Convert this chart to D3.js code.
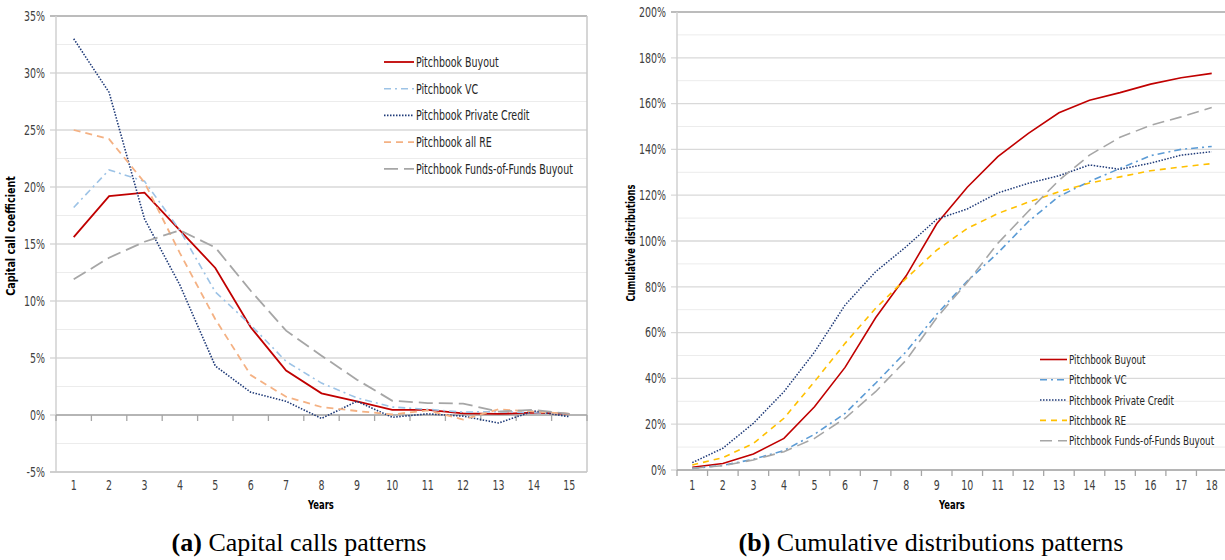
<!DOCTYPE html>
<html>
<head>
<meta charset="utf-8">
<script src="https://cdn.jsdelivr.net/npm/d3@7"></script>
<style>
body { margin: 0; background: #fff; }
svg { display: block; }
.cond { font-family: "DejaVu Sans Condensed", "DejaVu Sans", sans-serif; font-stretch: condensed; }
.cap { font-family: "Liberation Serif", "DejaVu Serif", serif; font-size: 26px; }
</style>
</head>
<body>
<svg id="chart" width="1225" height="560"></svg>
<script>
// --- data (a) capital calls, years 1..15, in %
let yearsA = d3.range(1, 16);
let callsBuyout = [15.6, 19.2, 19.5, 16.2, 12.9, 7.7, 3.9, 1.9, 1.2, 0.45, 0.45, 0.15, 0.1, 0.2, 0.1];
let callsVC = [18.2, 21.5, 20.5, 16.2, 10.8, 7.9, 4.7, 2.8, 1.5, 0.7, 0.5, 0.25, 0.3, 0.2, 0.1];
let callsCredit = [33.0, 28.3, 17.2, 11.4, 4.3, 2.0, 1.2, -0.3, 1.2, -0.2, 0.1, -0.1, -0.7, 0.35, -0.15];
let callsRE = [25.0, 24.2, 20.4, 14.2, 8.4, 3.5, 1.6, 0.7, 0.35, 0.05, 0.4, -0.4, 0.5, 0.3, 0.1];
let callsFoF = [11.9, 13.8, 15.2, 16.2, 14.7, 10.9, 7.4, 5.2, 3.1, 1.25, 1.05, 1.0, 0.3, 0.45, 0.1];
let ticksA = [-5, 0, 5, 10, 15, 20, 25, 30, 35];

// --- data (b) cumulative distributions, years 1..18, in %
let yearsB = d3.range(1, 19);
let distBuyout = [1.2, 2.8, 7.0, 13.8, 27.6, 44.8, 66.5, 84.8, 107.5, 123.5, 136.8, 147, 156, 161.5, 164.8, 168.5, 171.3, 173.2];
let distVC = [0.7, 2.0, 4.7, 8.5, 15.6, 24.7, 37.9, 51.7, 68, 82.5, 94.8, 108.5, 119.5, 126, 131.7, 137.3, 140, 141.3];
let distCredit = [3.2, 9.5, 20.4, 34.2, 51.5, 72, 86.6, 97.5, 109.5, 114, 121, 125.2, 128.5, 133.2, 131.3, 134, 137.5, 139];
let distRE = [2.2, 5.4, 11.6, 22.6, 38.6, 55.3, 70.6, 83.7, 96, 105.5, 112, 117, 121.5, 125.3, 128, 130.7, 132.3, 133.8];
let distFoF = [0.7, 1.9, 4.4, 8.0, 13.8, 22.6, 34.2, 48, 66.5, 82, 99, 113, 126.5, 137.5, 145.3, 150.5, 154.2, 158.3];
let ticksB = [0, 20, 40, 60, 80, 100, 120, 140, 160, 180, 200];

let svg = d3.select("#chart");

// the original uses a very narrow font, so squeeze the text horizontally (around its own x)
function squeeze(sel, k) {
	sel.each(function () {
		let t = d3.select(this);
		let tr = t.attr("transform");
		if (tr) {
			t.attr("transform", tr + " scale(" + k + ",1)");
		} else {
			let x0 = +t.attr("x") || 0;
			t.attr("transform", "translate(" + (x0 * (1 - k)) + ",0) scale(" + k + ",1)");
		}
	});
}

function drawPanel(opt) {
	let g = svg.append("g");
	let x = d3.scaleBand().domain(opt.years).range([opt.left, opt.right]);
	let y = d3.scaleLinear().domain(opt.domain).range([opt.bottom, opt.top]);

	// minor grid
	let minor = d3.range(opt.domain[0], opt.domain[1], opt.minorStep).filter(v => !opt.ticks.includes(v));
	g.selectAll(".minor").data(minor).enter().append("line")
		.attr("x1", opt.left).attr("x2", opt.right)
		.attr("y1", d => y(d)).attr("y2", d => y(d))
		.attr("stroke", "#ececec").attr("stroke-width", 1);
	// major grid
	g.selectAll(".major").data(opt.ticks).enter().append("line")
		.attr("x1", opt.left - 6).attr("x2", opt.right)
		.attr("y1", d => y(d)).attr("y2", d => y(d))
		.attr("stroke", d => d == opt.domain[1] ? "#a6a6a6" : "#d9d9d9").attr("stroke-width", 1.3);

	// left axis + frame
	g.append("line").attr("x1", opt.left).attr("x2", opt.left).attr("y1", opt.top).attr("y2", opt.bottom)
		.attr("stroke", "#d0d0d0").attr("stroke-width", 1.5);
	if (opt.frame) {
		g.append("line").attr("x1", opt.right).attr("x2", opt.right).attr("y1", opt.top).attr("y2", opt.bottom)
			.attr("stroke", "#c8c8c8").attr("stroke-width", 1.5);
		g.append("line").attr("x1", opt.left - 6).attr("x2", opt.right).attr("y1", opt.bottom).attr("y2", opt.bottom)
			.attr("stroke", "#c8c8c8").attr("stroke-width", 1.3);
	}

	// x axis at zero with ticks between categories
	let y0 = y(0);
	g.append("line").attr("x1", opt.left).attr("x2", opt.right).attr("y1", y0).attr("y2", y0)
		.attr("stroke", "#a6a6a6").attr("stroke-width", 1.3);
	let bounds = opt.years.map(d => x(d)).concat([x(opt.years[opt.years.length - 1]) + x.bandwidth()]);
	g.selectAll(".xt").data(bounds).enter().append("line")
		.attr("x1", d => d).attr("x2", d => d).attr("y1", y0).attr("y2", y0 + 6)
		.attr("stroke", "#a6a6a6").attr("stroke-width", 1.3);

	// tick labels
	g.selectAll(".yl").data(opt.ticks).enter().append("text")
		.attr("class", "cond").attr("x", opt.left - 11).attr("y", d => y(d)).attr("dy", "0.36em")
		.attr("text-anchor", "end").style("font-size", "13.5px").attr("fill", "#404040")
		.text(d => d + "%").call(squeeze, 0.78);
	g.selectAll(".xl").data(opt.years).enter().append("text")
		.attr("class", "cond").attr("x", d => x(d) + x.bandwidth() / 2).attr("y", 485).attr("dy", "0.36em")
		.attr("text-anchor", "middle").style("font-size", "13.5px").attr("fill", "#404040")
		.text(d => d).call(squeeze, 0.78);

	// axis titles
	g.append("text").attr("class", "cond").attr("x", opt.xTitleX).attr("y", 504).attr("dy", "0.36em")
		.attr("text-anchor", "middle").style("font-size", "13px").style("font-weight", "bold").text("Years")
		.call(squeeze, 0.72);
	g.append("text").attr("class", "cond")
		.attr("transform", "translate(" + opt.yTitleX + "," + opt.yTitleY + ") rotate(-90)")
		.attr("dy", "0.36em").attr("text-anchor", "middle").style("font-size", "13px").style("font-weight", "bold")
		.text(opt.yTitle).call(squeeze, opt.yTitleK);

	// series
	let line = d3.line().x((d, i) => x(opt.years[i]) + x.bandwidth() / 2).y(d => y(d));
	opt.series.forEach(s => {
		g.append("path").datum(s.values).attr("d", line)
			.attr("fill", "none").attr("stroke", s.color).attr("stroke-width", s.width)
			.attr("stroke-dasharray", s.dash);
	});

	// legend
	opt.series.forEach((s, i) => {
		let ly = opt.legY + i * opt.legStep;
		g.append("line").attr("x1", opt.legX).attr("x2", opt.legX + opt.legLen).attr("y1", ly).attr("y2", ly)
			.attr("stroke", s.color).attr("stroke-width", s.width).attr("stroke-dasharray", s.dash);
		g.append("text").attr("class", "cond").attr("x", opt.legX + opt.legLen + 2).attr("y", ly).attr("dy", "0.36em")
			.style("font-size", opt.legFont).attr("fill", "#262626").text(s.name).call(squeeze, 0.78);
	});
}

drawPanel({
	years: yearsA, domain: [-5, 35], ticks: ticksA, minorStep: 2.5,
	left: 56, right: 587, top: 16, bottom: 472, frame: true,
	xTitleX: 321, yTitleX: 10, yTitleY: 236, yTitle: "Capital call coefficient", yTitleK: 0.82,
	legX: 384, legLen: 30, legY: 62, legStep: 26.7, legFont: "13.5px",
	series: [
		{ name: "Pitchbook Buyout", values: callsBuyout, color: "#c00000", width: 1.8, dash: null },
		{ name: "Pitchbook VC", values: callsVC, color: "#9dc3e6", width: 1.6, dash: "7,4,2,4" },
		{ name: "Pitchbook Private Credit", values: callsCredit, color: "#1f3a78", width: 1.6, dash: "1.5,1.5" },
		{ name: "Pitchbook all RE", values: callsRE, color: "#f4b183", width: 1.8, dash: "7,5" },
		{ name: "Pitchbook Funds-of-Funds Buyout", values: callsFoF, color: "#a6a6a6", width: 1.8, dash: "14,6" }
	]
});

drawPanel({
	years: yearsB, domain: [0, 200], ticks: ticksB, minorStep: 10,
	left: 677, right: 1227, top: 12, bottom: 470, frame: false,
	xTitleX: 952, yTitleX: 630, yTitleY: 243, yTitle: "Cumulative distributions", yTitleK: 0.72,
	legX: 1040, legLen: 27, legY: 359.5, legStep: 20.3, legFont: "12.5px",
	series: [
		{ name: "Pitchbook Buyout", values: distBuyout, color: "#c00000", width: 1.6, dash: null },
		{ name: "Pitchbook VC", values: distVC, color: "#5b9bd5", width: 1.6, dash: "7,4,2,4" },
		{ name: "Pitchbook Private Credit", values: distCredit, color: "#1f3a78", width: 1.5, dash: "1.5,1.5" },
		{ name: "Pitchbook RE", values: distRE, color: "#ffc000", width: 1.6, dash: "6,5" },
		{ name: "Pitchbook Funds-of-Funds Buyout", values: distFoF, color: "#a6a6a6", width: 1.6, dash: "12,6" }
	]
});

// captions
let capA = svg.append("text").attr("class", "cap").attr("x", 299).attr("y", 551).attr("text-anchor", "middle");
capA.append("tspan").style("font-weight", "bold").text("(a)");
capA.append("tspan").text(" Capital calls patterns");
let capB = svg.append("text").attr("class", "cap").attr("x", 931).attr("y", 551).attr("text-anchor", "middle");
capB.append("tspan").style("font-weight", "bold").text("(b)");
capB.append("tspan").text(" Cumulative distributions patterns");
</script>
</body>
</html>
